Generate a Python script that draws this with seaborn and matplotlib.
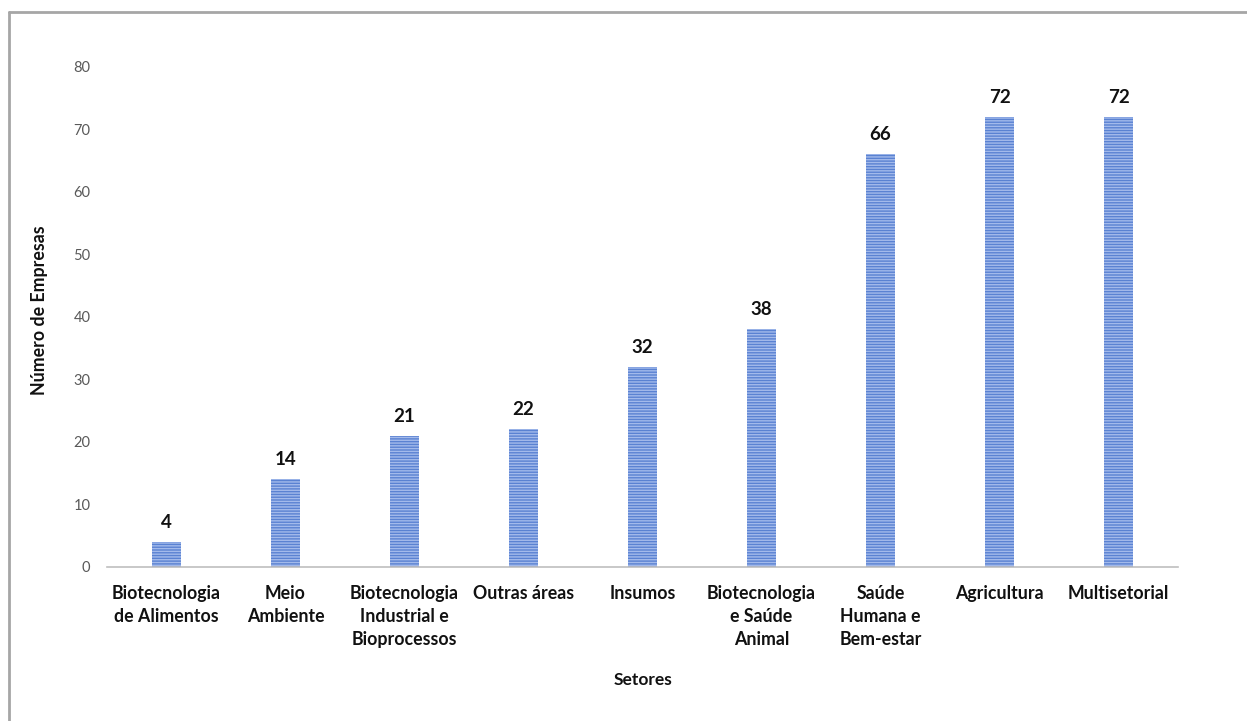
import matplotlib
matplotlib.use("Agg")
import matplotlib.pyplot as plt
import seaborn as sns
import pandas as pd
from matplotlib.lines import Line2D

categories = ["Biotecnologia\nde Alimentos", "Meio\nAmbiente", "Biotecnologia\nIndustrial e\nBioprocessos",
              "Outras áreas", "Insumos", "Biotecnologia\ne Saúde\nAnimal", "Saúde\nHumana e\nBem-estar",
              "Agricultura", "Multisetorial"]
values = [4, 14, 21, 22, 32, 38, 66, 72, 72]
y_ticks = [0, 10, 20, 30, 40, 50, 60, 70, 80]

sns.set_theme(style="white")
plt.rcParams['font.family'] = ['Lato', 'DejaVu Sans']
plt.rcParams['hatch.linewidth'] = 1.0

df = pd.DataFrame({"Setores": categories, "Empresas": values})

fig = plt.figure(figsize=(12.47, 7.21), dpi=100)
ax = fig.add_axes([0.0858, 0.2136, 0.8589, 0.6935])

sns.barplot(data=df, x="Setores", y="Empresas", ax=ax, width=0.25,
            color="#5A82D2", saturation=1)
for p in ax.patches:
    p.set_hatch("------")
    p.set_edgecolor("#A3BAEB")
    p.set_linewidth(0)

for i, v in enumerate(values):
    ax.annotate(str(v), (i, v), xytext=(0, 8), textcoords="offset points",
                ha="center", va="bottom", fontsize=13.5, fontweight="bold", color="#111111")

ax.set_xlim(-0.5, 8.5)
ax.set_ylim(0, 80)
ax.set_yticks(y_ticks)
ax.tick_params(axis="y", length=0, labelsize=10.5, labelcolor="#595959", pad=12)
ax.tick_params(axis="x", length=0, labelsize=12.8, pad=13)
for lab in ax.get_xticklabels():
    lab.set_fontweight("bold")
    lab.set_color("#111111")
    lab.set_linespacing(1.42)
for s in ["left", "right", "top"]:
    ax.spines[s].set_visible(False)
ax.spines["bottom"].set_color("#BFBFBF")
ax.spines["bottom"].set_linewidth(1.2)

ax.set_xlabel("Setores", fontsize=12.5, fontweight="bold", color="#111111")
ax.xaxis.set_label_coords(0.5, -(680 - 567) / 500)
ax.xaxis.label.set_va("center")
ax.set_ylabel("Número de Empresas", fontsize=12.8, fontweight="bold", color="#111111")
ax.yaxis.set_label_coords(-(107 - 40) / 1071, (567 - 310) / 500)
ax.yaxis.label.set_va("center")

# outer frame
fig.add_artist(Line2D([9/1247, 9/1247], [0, 1 - 12/721], transform=fig.transFigure, color="#A6A6A6", lw=2))
fig.add_artist(Line2D([9/1247, 1], [1 - 12/721, 1 - 12/721], transform=fig.transFigure, color="#A6A6A6", lw=2))

fig.savefig("out.png", dpi=100)
